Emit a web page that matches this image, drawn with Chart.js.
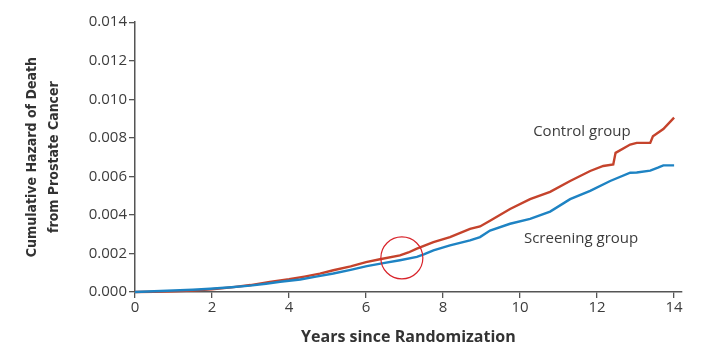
<!DOCTYPE html>
<html>
<head>
<meta charset="utf-8">
<script src="https://cdn.jsdelivr.net/npm/chart.js@4"></script>
<style>
  html, body { margin: 0; padding: 0; background: #fff; }
  #wrap { width: 704px; height: 352px; }
</style>
</head>
<body>
<div id="wrap"><canvas id="hazardChart" width="704" height="352"></canvas></div>
<script>
// years since randomization and cumulative hazard
const controlYears = [0, 0.5, 1, 1.5, 2, 2.5, 3, 3.5, 4, 4.4, 4.8, 5.15, 5.6, 6, 6.36, 6.88, 7.1, 7.32, 7.75, 8.18, 8.7, 8.96, 9.22, 9.74, 10.26, 10.78, 11.3, 11.82, 12.16, 12.42, 12.48, 12.86, 13.03, 13.38, 13.45, 13.72, 14];
const controlHazard = [0, 0.00001, 0.00003, 0.00007, 0.00014, 0.00024, 0.00036, 0.00052, 0.00066, 0.0008, 0.00095, 0.00113, 0.00133, 0.00155, 0.0017, 0.0019, 0.00205, 0.00225, 0.00259, 0.00285, 0.00328, 0.0034, 0.0037, 0.00431, 0.00482, 0.0052, 0.00576, 0.00628, 0.00654, 0.00662, 0.00722, 0.00765, 0.00774, 0.00774, 0.00808, 0.00846, 0.00905];

const screeningYears = [0, 0.5, 1, 1.5, 1.95, 2.5, 2.99, 3.4, 3.77, 4.29, 4.7, 5.15, 5.6, 6.02, 6.45, 6.88, 7.32, 7.5, 7.75, 8.18, 8.7, 8.96, 9.22, 9.74, 10.26, 10.78, 11.3, 11.82, 12.34, 12.86, 13.03, 13.38, 13.58, 13.72, 14];
const screeningHazard = [0, 0.00004, 0.00008, 0.00012, 0.00017, 0.00025, 0.00033, 0.00043, 0.00053, 0.00065, 0.0008, 0.00096, 0.00115, 0.00134, 0.0015, 0.00165, 0.00182, 0.00195, 0.00216, 0.00242, 0.00268, 0.00285, 0.00319, 0.00354, 0.00379, 0.00417, 0.00482, 0.00525, 0.00576, 0.00619, 0.0062, 0.0063, 0.00645, 0.00657, 0.00657];

const xTicks = [0, 2, 4, 6, 8, 10, 12, 14];
const yTicks = [0, 0.002, 0.004, 0.006, 0.008, 0.01, 0.012, 0.014];

// the red circle in the figure marks this point
const highlightPoint = [{ x: 6.93, y: 0.00177 }];

const toPoints = (xs, ys) => xs.map((x, i) => ({ x: x, y: ys[i] }));

const textColor = "#3c3c3c";
const axisColor = "#555555";

const groupLabels = {
  id: "groupLabels",
  afterDatasetsDraw(chart) {
    const { ctx, scales } = chart;
    ctx.save();
    ctx.font = "15px 'Open Sans'";
    ctx.fillStyle = textColor;
    ctx.textBaseline = "middle";
    ctx.textAlign = "left";
    ctx.fillText("Control group", scales.x.getPixelForValue(10.34), scales.y.getPixelForValue(0.00834));
    ctx.fillText("Screening group", scales.x.getPixelForValue(10.1), scales.y.getPixelForValue(0.00278));
    ctx.restore();
  },
};

const lineClip = { left: 2, top: 2, right: 4, bottom: 3 };

new Chart(document.getElementById("hazardChart").getContext("2d"), {
  type: "line",
  data: {
    datasets: [
      {
        label: "Highlight",
        type: "scatter",
        data: highlightPoint,
        pointRadius: 21,
        pointHoverRadius: 21,
        pointBorderColor: "#d8232a",
        pointBackgroundColor: "rgba(0,0,0,0)",
        pointBorderWidth: 1.2,
        clip: false,
      },
      {
        label: "Screening group",
        data: toPoints(screeningYears, screeningHazard),
        borderColor: "#1e83c3",
        borderWidth: 2.4,
        pointRadius: 0,
        fill: false,
        clip: lineClip,
      },
      {
        label: "Control group",
        data: toPoints(controlYears, controlHazard),
        borderColor: "#c5432c",
        borderWidth: 2.4,
        pointRadius: 0,
        fill: false,
        clip: lineClip,
      },
    ],
  },
  options: {
    responsive: false,
    animation: false,
    layout: { padding: { left: 16, top: 20, right: 22, bottom: 0 } },
    plugins: {
      legend: { display: false },
      tooltip: { enabled: false },
    },
    scales: {
      x: {
        type: "linear",
        min: 0,
        max: 14.2,
        afterBuildTicks: (axis) => { axis.ticks = xTicks.map((v) => ({ value: v })); },
        afterFit: (scale) => { scale.height = 60; },
        ticks: {
          color: textColor,
          font: { family: "Open Sans", size: 15 },
          padding: 1,
          maxRotation: 0,
        },
        grid: { display: true, drawOnChartArea: false, drawTicks: true, tickLength: 6, color: axisColor, lineWidth: 1.3 },
        border: { display: true, color: axisColor, width: 1.5 },
        title: {
          display: true,
          text: "Years since Randomization",
          color: "#333",
          font: { family: "Open Sans", size: 16, weight: "bold" },
          padding: { top: 0, bottom: 5 },
        },
      },
      y: {
        min: 0,
        max: 0.014,
        afterBuildTicks: (axis) => { axis.ticks = yTicks.map((v) => ({ value: v })); },
        afterFit: (scale) => { scale.width = 119; },
        ticks: {
          color: textColor,
          font: { family: "Open Sans", size: 15 },
          padding: 2,
          callback: (v) => v.toFixed(3),
        },
        grid: { display: true, drawOnChartArea: false, drawTicks: true, tickLength: 6, color: axisColor, lineWidth: 1.3 },
        border: { display: true, color: axisColor, width: 1.5 },
        title: {
          display: true,
          text: ["Cumulative Hazard of Death", "from Prostate Cancer"],
          color: "#333",
          font: { family: "DejaVu Sans Condensed", size: 14, weight: "bold", lineHeight: 1.6 },
          padding: { top: 5, bottom: 0 },
        },
      },
    },
  },
  plugins: [groupLabels],
});
</script>
</body>
</html>
